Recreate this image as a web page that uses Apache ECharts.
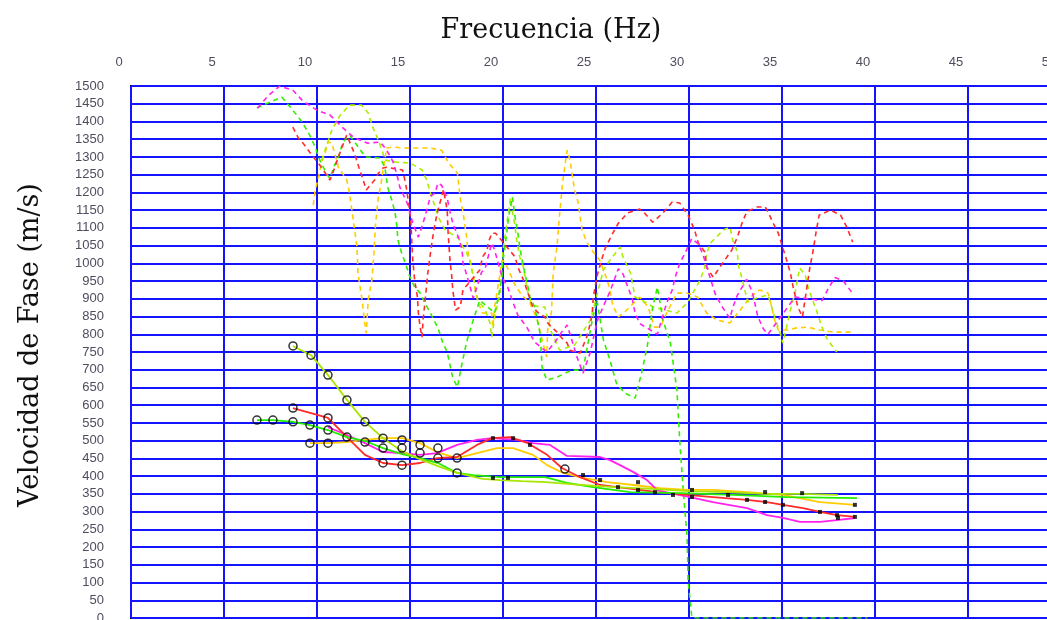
<!DOCTYPE html>
<html>
<head>
<meta charset="utf-8">
<script src="https://cdn.jsdelivr.net/npm/echarts@6/dist/echarts.min.js"></script>
<style>
  html, body { margin: 0; padding: 0; background: #fff; }
  #chart { width: 1047px; height: 620px; }
</style>
</head>
<body>
<div id="chart"></div>
<script>
// frecuencia (Hz) vs velocidad de fase (m/s)
const xTicks = [0, 5, 10, 15, 20, 25, 30, 35, 40, 45, 50];

// curvas discontinuas (modos superiores)
const magentaDash = [[6.8,1438],[7.4,1474],[8.0,1500],[8.7,1488],[9.25,1457],[10.0,1432],[10.7,1418],[11.35,1384],[11.95,1356],[12.7,1339],[13.4,1342],[13.75,1319],[14.1,1285],[14.3,1249],[14.45,1215],[14.85,1170],[15.15,1113],[15.45,1074],[15.7,1113],[15.9,1150],[16.1,1190],[16.35,1198],[16.5,1226],[16.7,1220],[17.0,1184],[17.15,1145],[17.3,1113],[17.6,1074],[17.8,1037],[17.85,1001],[18.05,967],[18.25,930],[18.4,902],[18.85,975],[19.05,987],[19.2,1018],[19.4,1057],[19.55,1037],[19.95,961],[20.25,933],[20.55,888],[20.8,854],[21.3,818],[21.7,778],[22.35,750],[22.8,778],[23.15,806],[23.45,826],[23.7,784],[23.95,740],[24.3,690],[24.7,750],[25.05,835],[25.4,880],[25.75,920],[26.2,985],[26.45,970],[26.7,935],[26.95,900],[27.1,860],[27.35,830],[28.3,800],[28.8,888],[29.1,925],[29.25,960],[29.5,1000],[29.8,1030],[30.15,1070],[30.5,1055],[30.75,1025],[31.4,915],[31.75,880],[32.2,845],[32.35,875],[32.6,910],[33.1,955],[33.4,920],[33.7,850],[34.0,815],[34.25,800],[35.7,905],[37.15,895],[37.5,930],[37.85,960],[38.3,950],[38.8,915]];
const redDash = [[8.7,1384],[9.0,1353],[9.25,1339],[9.6,1314],[9.8,1300],[10.15,1277],[10.45,1254],[10.7,1235],[10.95,1269],[11.15,1300],[11.35,1328],[11.6,1362],[12.05,1305],[12.25,1271],[12.45,1240],[12.65,1207],[13.1,1235],[13.3,1254],[13.55,1269],[13.75,1271],[14.6,1263],[14.75,1229],[14.85,1198],[14.95,1159],[15.05,1113],[15.1,1057],[15.15,1009],[15.25,953],[15.4,905],[15.45,860],[15.55,818],[15.65,792],[15.7,840],[15.8,888],[15.95,970],[16.1,1029],[16.2,1066],[16.35,1113],[16.5,1150],[16.7,1187],[16.8,1207],[17.0,1150],[17.05,1085],[17.15,1009],[17.25,961],[17.3,925],[17.45,868],[17.7,877],[17.85,925],[18.75,981],[18.9,1018],[19.15,1037],[19.2,1057],[19.4,1085],[19.6,1085],[20.65,1018],[20.8,989],[21.1,953],[21.6,877],[21.9,860],[22.25,849],[22.4,832],[22.9,806],[23.25,784],[23.45,775],[23.6,755],[23.85,750],[24.15,747],[24.5,792],[24.7,832],[24.8,860],[24.85,902],[24.95,933],[25.1,973],[25.3,1009],[25.5,1043],[25.85,1080],[26.2,1113],[26.7,1142],[27.35,1153],[27.55,1145],[28.05,1116],[28.6,1142],[29.1,1173],[29.5,1170],[29.95,1136],[30.3,1094],[30.5,1057],[30.85,1032],[30.95,989],[31.3,961],[31.85,1004],[32.3,1037],[32.6,1074],[32.85,1113],[33.1,1145],[33.65,1159],[34.1,1159],[34.25,1145],[34.5,1116],[34.8,1085],[35.05,1043],[35.25,1009],[35.45,973],[35.6,933],[35.85,877],[36.1,849],[36.5,989],[36.65,1029],[36.85,1094],[37.0,1136],[37.6,1150],[38.15,1136],[38.5,1100],[38.8,1060]];
const greenDash = [[6.77,1438],[8.1,1469],[8.7,1432],[9.2,1398],[9.6,1362],[9.9,1328],[10.15,1291],[10.55,1249],[10.7,1240],[10.95,1277],[11.15,1300],[11.4,1342],[11.75,1362],[12.6,1300],[13.4,1297],[13.65,1271],[13.8,1215],[14.05,1173],[14.2,1142],[14.3,1102],[14.35,1066],[14.55,1029],[14.75,1001],[15.0,961],[15.25,933],[15.55,916],[15.8,888],[16.1,860],[16.5,818],[16.75,778],[17.0,750],[17.15,713],[17.3,677],[17.55,651],[17.8,719],[17.95,755],[18.1,789],[18.35,832],[18.75,896],[19.55,860],[19.75,905],[19.95,961],[20.0,1009],[20.1,1046],[20.2,1085],[20.3,1130],[20.5,1187],[20.65,1130],[20.8,1085],[20.9,1046],[21.1,989],[21.3,944],[21.45,905],[21.7,877],[22.0,800],[22.1,708],[22.35,671],[22.9,679],[23.7,699],[24.3,699],[24.8,840],[25.05,896],[25.4,784],[25.75,727],[26.1,662],[26.55,634],[27.1,620],[27.45,691],[27.75,764],[28.05,877],[28.3,933],[28.6,840],[29.0,775],[29.35,643],[29.5,502],[29.7,352],[29.9,228],[29.95,107],[30.15,3],[30.4,0],[39.6,0]];
const yellowGreenDash = [[10.25,1291],[10.8,1376],[11.25,1418],[11.75,1446],[12.4,1446],[12.75,1424],[13.0,1384],[13.25,1353],[13.5,1319],[13.65,1291],[14.3,1285],[15.0,1283],[15.65,1263],[15.9,1235],[16.1,1198],[16.35,1159],[16.6,1122],[16.9,1094],[17.6,1071],[17.85,1046],[18.05,1029],[18.25,1001],[18.4,967],[18.5,933],[18.65,896],[19.05,868],[19.3,832],[19.4,792],[19.55,849],[19.85,916],[20.0,1037],[20.4,1184],[20.5,1150],[20.65,1102],[20.75,1060],[20.9,1018],[21.1,989],[21.2,958],[21.35,916],[21.55,882],[22.0,877],[22.25,877],[22.55,812],[23.05,755],[23.85,770],[24.7,840],[25.4,981],[25.75,1009],[26.3,1046],[26.45,1018],[26.85,973],[27.1,905],[27.75,888],[28.05,877],[29.35,860],[29.9,888],[30.3,925],[30.6,953],[30.85,989],[30.95,1029],[31.15,1057],[31.85,1094],[32.2,1102],[32.35,1066],[32.6,1032],[32.65,995],[32.85,958],[33.0,925],[33.15,891],[33.65,902],[34.25,911],[34.6,849],[34.9,803],[35.05,775],[35.45,868],[35.7,916],[35.95,987],[36.25,967],[36.4,933],[36.65,896],[36.9,860],[37.15,820],[37.45,784],[37.95,750]];
const yellowDash = [[9.8,1164],[9.9,1207],[10.05,1235],[10.25,1285],[10.45,1314],[10.6,1342],[10.8,1339],[11.15,1271],[11.6,1235],[11.75,1198],[11.95,1122],[12.15,1046],[12.2,973],[12.4,905],[12.55,840],[12.65,803],[12.75,896],[12.95,953],[13.05,1018],[13.15,1113],[13.3,1187],[13.45,1226],[13.55,1263],[13.75,1325],[14.1,1328],[14.6,1325],[15.4,1325],[16.1,1325],[16.7,1319],[17.05,1285],[17.55,1254],[17.7,1184],[17.85,1145],[17.95,1108],[18.05,1071],[18.1,1037],[18.25,1001],[18.4,961],[18.5,925],[18.65,891],[18.9,860],[19.4,860],[19.45,820],[19.55,877],[19.7,925],[19.85,973],[19.95,1009],[20.1,1004],[20.65,939],[21.0,911],[21.45,888],[21.85,840],[22.0,806],[22.15,775],[22.35,736],[22.4,812],[22.6,860],[22.7,973],[22.9,1046],[23.05,1142],[23.2,1226],[23.35,1283],[23.45,1319],[23.6,1291],[23.85,1207],[24.05,1170],[24.15,1130],[24.25,1094],[24.5,1060],[24.85,1032],[25.2,1009],[25.4,981],[25.6,953],[25.75,925],[25.9,882],[26.2,849],[26.55,863],[27.35,905],[27.8,877],[28.15,820],[28.45,820],[28.8,860],[29.35,916],[29.9,916],[30.45,905],[30.95,860],[31.5,840],[32.2,832],[32.75,868],[33.3,905],[33.8,925],[34.25,916],[34.45,877],[34.6,840],[34.8,812],[35.25,812],[35.8,818],[36.35,820],[37.05,812],[37.75,806],[38.9,806]];

// curvas continuas (modo fundamental)
const yellowGreenSolid = [[8.71,767],[9.68,741],[10.59,685],[11.61,615],[12.58,553],[13.55,507],[14.57,470],[15.54,448],[16.5,428],[17.53,409],[18.9,392],[19.84,389],[21.0,386],[22.3,383],[24.0,376],[26.0,369],[28.0,364],[30.0,358],[32.0,355],[34.0,350],[36.0,350],[38.0,347]];
const greenSolid = [[6.77,558],[7.63,558],[8.71,553],[9.62,544],[10.59,530],[11.61,510],[12.58,499],[13.55,479],[14.57,462],[15.54,451],[16.5,437],[17.53,409],[18.4,403],[19.84,397],[21.0,397],[22.26,397],[23.44,381],[24.84,369],[26.83,355],[29.52,352],[32.37,347],[35.27,341],[39.03,338]];
const redSolid = [[8.71,592],[10.59,564],[11.61,510],[12.58,460],[13.55,437],[14.57,431],[15.54,437],[16.45,451],[17.53,454],[18.6,488],[19.41,507],[20.38,510],[21.34,493],[22.37,460],[23.17,423],[24.14,397],[25.22,375],[26.13,369],[27.37,361],[28.28,355],[29.89,347],[31.29,341],[33.12,333],[34.19,327],[35.05,319],[36.13,310],[37.04,299],[37.96,290],[38.92,285]];
const magentaSolid = [[10.59,538],[11.61,516],[12.58,493],[13.55,468],[14.57,465],[15.54,460],[16.45,465],[17.53,488],[18.6,502],[19.41,507],[20.75,502],[21.61,493],[22.53,488],[23.44,457],[25.22,454],[25.75,445],[26.29,431],[26.99,412],[27.74,389],[28.28,361],[28.98,352],[30.05,341],[31.29,327],[33.12,310],[34.19,290],[35.05,282],[35.97,271],[37.04,271],[37.96,276],[38.92,282]];
const yellowSolid = [[9.62,493],[10.59,493],[11.61,496],[12.58,502],[13.55,507],[14.57,507],[15.54,493],[16.45,468],[17.53,451],[18.6,465],[19.68,479],[20.54,479],[21.61,460],[22.37,431],[23.23,409],[24.3,395],[25.59,383],[26.99,375],[28.44,366],[29.89,361],[31.29,361],[33.12,355],[35.05,347],[37.04,327],[38.92,319]];

// puntos medidos
const bigPoints = [[8.71,767],[9.68,741],[10.59,685],[11.61,615],[12.58,553],[8.71,592],[10.59,564],[6.77,558],[7.63,558],[8.71,553],[9.62,544],[10.59,530],[11.61,510],[9.62,493],[10.59,493],[12.58,496],[13.55,507],[13.55,479],[13.55,437],[14.57,502],[14.57,479],[14.57,431],[15.54,488],[15.54,465],[16.5,479],[16.5,451],[17.53,451],[17.53,409],[23.33,420]];
const smallPoints = [[19.46,507],[20.54,507],[19.46,395],[20.27,395],[21.45,488],[24.3,403],[25.22,389],[26.18,369],[27.26,383],[27.26,361],[28.17,355],[29.14,347],[30.16,361],[30.16,341],[32.1,347],[33.12,333],[34.09,355],[34.09,327],[35.05,319],[36.08,352],[37.04,299],[37.96,290],[38.01,282],[38.92,285],[38.92,319]];

const chart = echarts.init(document.getElementById('chart'));

const dashLine = (data, color) => ({
    type: 'line',
    data: data,
    showSymbol: false,
    silent: true,
    lineStyle: { color: color, width: 1.6, type: [5, 4] },
    z: 2
});

const solidLine = (data, color) => ({
    type: 'line',
    data: data,
    showSymbol: false,
    silent: true,
    lineStyle: { color: color, width: 1.8 },
    z: 3
});

const labelStyle = {
    color: '#4d4d5e',
    fontFamily: 'Liberation Sans',
    fontSize: 13
};

const option = {
    animation: false,
    backgroundColor: '#fff',
    title: {
        text: 'Frecuencia (Hz)',
        left: 546,
        top: 12,
        textAlign: 'center',
        textStyle: { fontFamily: 'DejaVu Serif', fontSize: 27, fontWeight: 'normal', color: '#111' }
    },
    grid: {
        left: 131,
        top: 86,
        width: 930,
        height: 532,
        show: true,
        borderColor: '#000',
        borderWidth: 2,
        containLabel: false,
        outerBoundsMode: 'none'
    },
    xAxis: {
        type: 'value',
        position: 'top',
        min: 0,
        max: 50,
        interval: 5,
        axisLine: { show: false },
        axisTick: { show: false },
        axisLabel: Object.assign({ margin: 17, padding: [0, 24, 0, 0], formatter: v => xTicks.includes(v) ? String(v) : '' }, labelStyle),
        splitLine: { show: true, lineStyle: { color: '#1414ff', width: 2 } }
    },
    yAxis: {
        type: 'value',
        min: 0,
        max: 1500,
        interval: 50,
        name: 'Velocidad de Fase (m/s)',
        nameLocation: 'middle',
        nameGap: 87,
        nameRotate: 90,
        nameTextStyle: { fontFamily: 'DejaVu Serif', fontSize: 27, color: '#111', padding: [0, 0, 0, 14] },
        axisLine: { show: false },
        axisTick: { show: false },
        axisLabel: Object.assign({ margin: 27, formatter: v => String(v) }, labelStyle),
        splitLine: { show: true, lineStyle: { color: '#1414ff', width: 2 } }
    },
    series: [
        dashLine(yellowDash, '#ffcc00'),
        dashLine(yellowGreenDash, '#aaee00'),
        dashLine(greenDash, '#33ee00'),
        dashLine(redDash, '#ff2a2a'),
        dashLine(magentaDash, '#ff22ee'),
        solidLine(yellowSolid, '#ffcc00'),
        solidLine(magentaSolid, '#ff22ee'),
        solidLine(redSolid, '#ff2a2a'),
        solidLine(greenSolid, '#22ee00'),
        solidLine(yellowGreenSolid, '#a8e600'),
        {
            type: 'scatter',
            data: bigPoints,
            symbol: 'circle',
            symbolSize: 8,
            silent: true,
            itemStyle: { color: 'rgba(255,255,255,0)', borderColor: '#000', borderWidth: 1.5 },
            z: 5
        },
        {
            type: 'scatter',
            data: smallPoints,
            symbol: 'rect',
            symbolSize: 4,
            silent: true,
            itemStyle: { color: '#000' },
            z: 5
        }
    ]
};

chart.setOption(option);
</script>
</body>
</html>
